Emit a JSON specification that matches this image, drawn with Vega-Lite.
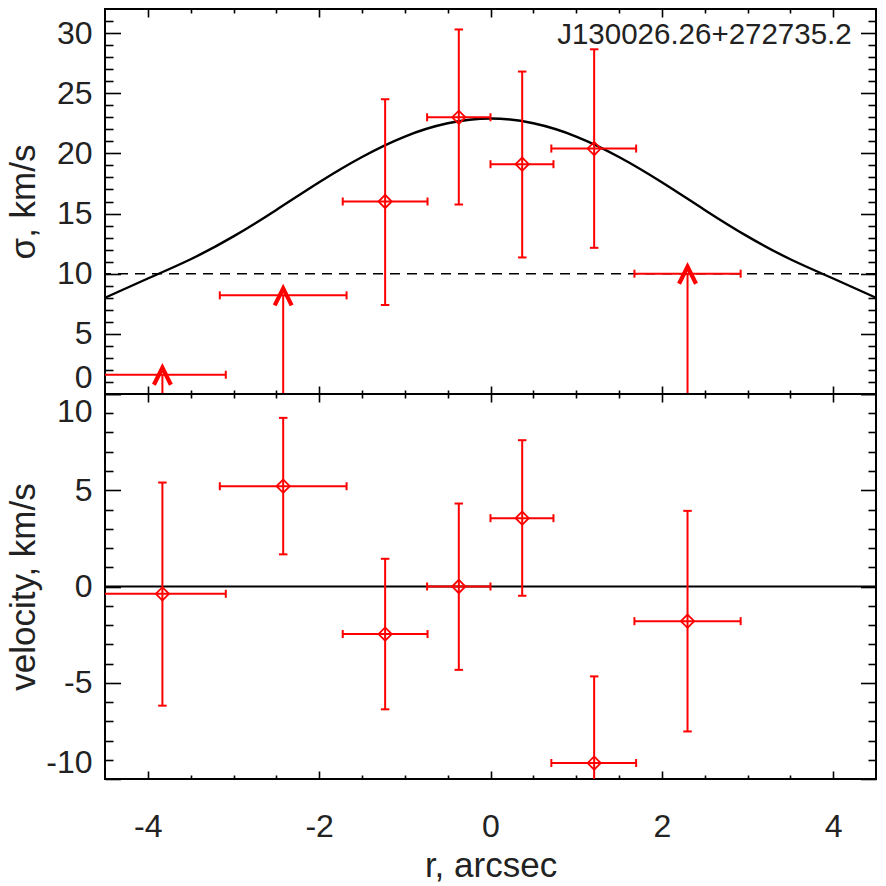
{
  "$schema": "https://vega.github.io/schema/vega-lite/v6.json",
  "padding": {"left": 5, "top": 7, "right": 5, "bottom": 2},
  "background": "white",
  "spacing": 0,
  "bounds": "flush",
  "config": {
    "font": "Liberation Sans",
    "view": {"stroke": "black", "strokeWidth": 2},
    "axis": {
      "domain": false,
      "grid": false,
      "tickColor": "black",
      "tickWidth": 1.6,
      "labelFont": "Liberation Sans",
      "labelFontSize": 32,
      "labelColor": "#222222",
      "labelExpr": "replace(datum.label, '\u2212', '-')",
      "titleFont": "Liberation Sans",
      "titleFontSize": 35,
      "titleFontWeight": "normal",
      "titleColor": "#222222"
    }
  },
  "datasets": {
    "profile": [
      {"r": -4.5, "sigma": 8.0}, {"r": -4.0, "sigma": 9.6}, {"r": -3.5, "sigma": 11.2},
      {"r": -3.0, "sigma": 13.1}, {"r": -2.5, "sigma": 15.3}, {"r": -2.0, "sigma": 17.6},
      {"r": -1.5, "sigma": 19.7}, {"r": -1.0, "sigma": 21.4}, {"r": -0.5, "sigma": 22.5},
      {"r": 0.0, "sigma": 22.9}, {"r": 0.5, "sigma": 22.5}, {"r": 1.0, "sigma": 21.4},
      {"r": 1.5, "sigma": 19.7}, {"r": 2.0, "sigma": 17.6}, {"r": 2.5, "sigma": 15.3},
      {"r": 3.0, "sigma": 13.1}, {"r": 3.5, "sigma": 11.2}, {"r": 4.0, "sigma": 9.6},
      {"r": 4.5, "sigma": 8.0}
    ],
    "sigma": [
      {"r": -3.83, "r_lo": -4.57, "r_hi": -3.09, "s": 1.6, "s_floor": 0, "kind": "limit"},
      {"r": -2.42, "r_lo": -3.16, "r_hi": -1.68, "s": 8.2, "s_floor": 0, "kind": "limit"},
      {"r": -1.23, "r_lo": -1.725, "r_hi": -0.735, "s": 16.0, "s_lo": 7.4, "s_hi": 24.5, "kind": "measured"},
      {"r": -0.37, "r_lo": -0.74, "r_hi": 0.0, "s": 23.0, "s_lo": 15.75, "s_hi": 30.3, "kind": "measured"},
      {"r": 0.37, "r_lo": 0.0, "r_hi": 0.735, "s": 19.1, "s_lo": 11.35, "s_hi": 26.8, "kind": "measured"},
      {"r": 1.21, "r_lo": 0.71, "r_hi": 1.7, "s": 20.4, "s_lo": 12.15, "s_hi": 28.65, "kind": "measured"},
      {"r": 2.3, "r_lo": 1.68, "r_hi": 2.92, "s": 10.0, "s_floor": 0, "kind": "limit"}
    ],
    "velocity": [
      {"r": -3.83, "r_lo": -4.57, "r_hi": -3.09, "v": -0.38, "v_lo": -6.19, "v_hi": 5.4},
      {"r": -2.42, "r_lo": -3.16, "r_hi": -1.68, "v": 5.21, "v_lo": 1.67, "v_hi": 8.76},
      {"r": -1.23, "r_lo": -1.725, "r_hi": -0.735, "v": -2.47, "v_lo": -6.38, "v_hi": 1.44},
      {"r": -0.37, "r_lo": -0.74, "r_hi": 0.0, "v": 0.0, "v_lo": -4.33, "v_hi": 4.31},
      {"r": 0.37, "r_lo": 0.0, "r_hi": 0.735, "v": 3.55, "v_lo": -0.48, "v_hi": 7.6},
      {"r": 1.21, "r_lo": 0.71, "r_hi": 1.7, "v": -9.17, "v_lo": -13.7, "v_hi": -4.67},
      {"r": 2.3, "r_lo": 1.68, "r_hi": 2.92, "v": -1.8, "v_lo": -7.53, "v_hi": 3.93}
    ],
    "one": [{"label": "J130026.26+272735.2", "r": 4.216, "s": 29.8, "threshold": 10, "zero": 0}]
  },
  "vconcat": [
    {
      "width": 771,
      "height": 385,
      "resolve": {"axis": {"x": "independent", "y": "independent"}},
      "layer": [
        {
          "data": {"name": "profile"},
          "mark": {"type": "line", "color": "black", "strokeWidth": 2.4, "interpolate": "natural"},
          "encoding": {
            "x": {"field": "r", "type": "quantitative",
                  "scale": {"domain": [-4.5, 4.5], "nice": false, "zero": false},
                  "axis": {"orient": "bottom", "values": [-4, -2, 0, 2, 4], "tickSize": -8, "labels": false, "title": null}},
            "y": {"field": "sigma", "type": "quantitative",
                  "scale": {"domain": [0, 32], "nice": false, "zero": false},
                  "axis": {"orient": "left", "values": [0, 5, 10, 15, 20, 25, 30], "tickSize": -15.5, "labelPadding": 28.5,
                           "labelOffset": {"condition": {"test": "datum.value === 0", "value": -17}, "value": 0},
                           "title": "σ, km/s", "titleX": -70.5, "titleBaseline": "alphabetic"}}
          }
        },
        {
          "data": {"name": "one"},
          "mark": {"type": "rule", "color": "black", "strokeWidth": 1.5, "strokeDash": [10, 7]},
          "encoding": {
            "y": {"field": "threshold", "type": "quantitative",
                  "axis": {"orient": "left", "values": [1,2,3,4,6,7,8,9,11,12,13,14,16,17,18,19,21,22,23,24,26,27,28,29,31], "tickSize": -8, "labels": false, "title": null}}
          }
        },
        {
          "data": {"name": "sigma"},
          "mark": {"type": "rule", "color": "red", "strokeWidth": 2, "clip": true},
          "encoding": {
            "x": {"field": "r_lo", "type": "quantitative",
                  "axis": {"orient": "bottom", "values": [-3.5,-3,-2.5,-1.5,-1,-0.5,0.5,1,1.5,2.5,3,3.5], "tickSize": -4, "labels": false, "title": null}},
            "x2": {"field": "r_hi"},
            "y": {"field": "s", "type": "quantitative",
                  "axis": {"orient": "right", "values": [0, 5, 10, 15, 20, 25, 30], "tickSize": -15.5, "labels": false, "title": null}}
          }
        },
        {
          "data": {"name": "sigma"},
          "mark": {"type": "tick", "orient": "vertical", "color": "red", "size": 8, "thickness": 2, "opacity": 1, "clip": true},
          "encoding": {
            "x": {"field": "r_lo", "type": "quantitative",
                  "axis": {"orient": "top", "values": [-4, -2, 0, 2, 4], "tickSize": -8, "labels": false, "title": null}},
            "y": {"field": "s", "type": "quantitative",
                  "axis": {"orient": "right", "values": [1,2,3,4,6,7,8,9,11,12,13,14,16,17,18,19,21,22,23,24,26,27,28,29,31], "tickSize": -8, "labels": false, "title": null}}
          }
        },
        {
          "data": {"name": "sigma"},
          "mark": {"type": "tick", "orient": "vertical", "color": "red", "size": 8, "thickness": 2, "opacity": 1, "clip": true},
          "encoding": {
            "x": {"field": "r_hi", "type": "quantitative",
                  "axis": {"orient": "top", "values": [-3.5,-3,-2.5,-1.5,-1,-0.5,0.5,1,1.5,2.5,3,3.5], "tickSize": -4, "labels": false, "title": null}},
            "y": {"field": "s", "type": "quantitative", "axis": null}
          }
        },
        {
          "data": {"name": "sigma"},
          "transform": [{"filter": "datum.kind === 'measured'"}],
          "mark": {"type": "rule", "color": "red", "strokeWidth": 2, "clip": true},
          "encoding": {
            "x": {"field": "r", "type": "quantitative", "axis": null},
            "y": {"field": "s_lo", "type": "quantitative", "axis": null},
            "y2": {"field": "s_hi"}
          }
        },
        {
          "data": {"name": "sigma"},
          "transform": [{"filter": "datum.kind === 'measured'"}],
          "mark": {"type": "tick", "orient": "horizontal", "color": "red", "size": 8.5, "thickness": 2, "opacity": 1, "clip": true},
          "encoding": {
            "x": {"field": "r", "type": "quantitative", "axis": null},
            "y": {"field": "s_lo", "type": "quantitative", "axis": null}
          }
        },
        {
          "data": {"name": "sigma"},
          "transform": [{"filter": "datum.kind === 'measured'"}],
          "mark": {"type": "tick", "orient": "horizontal", "color": "red", "size": 8.5, "thickness": 2, "opacity": 1, "clip": true},
          "encoding": {
            "x": {"field": "r", "type": "quantitative", "axis": null},
            "y": {"field": "s_hi", "type": "quantitative", "axis": null}
          }
        },
        {
          "data": {"name": "sigma"},
          "transform": [{"filter": "datum.kind === 'measured'"}],
          "mark": {"type": "point", "shape": "diamond", "size": 175, "filled": false, "stroke": "red", "strokeWidth": 1.8, "opacity": 1},
          "encoding": {
            "x": {"field": "r", "type": "quantitative", "axis": null},
            "y": {"field": "s", "type": "quantitative", "axis": null}
          }
        },
        {
          "data": {"name": "sigma"},
          "transform": [{"filter": "datum.kind === 'limit'"}],
          "mark": {"type": "rule", "color": "red", "strokeWidth": 2},
          "encoding": {
            "x": {"field": "r", "type": "quantitative", "axis": null},
            "y": {"field": "s_floor", "type": "quantitative", "axis": null},
            "y2": {"field": "s"}
          }
        },
        {
          "data": {"name": "sigma"},
          "transform": [{"filter": "datum.kind === 'limit'"}],
          "mark": {"type": "point", "shape": "M-1,1L0,-1L1,1", "size": 289, "filled": false, "stroke": "red", "strokeWidth": 4.2, "strokeJoin": "miter", "opacity": 1, "yOffset": 1.5},
          "encoding": {
            "x": {"field": "r", "type": "quantitative", "axis": null},
            "y": {"field": "s", "type": "quantitative", "axis": null}
          }
        },
        {
          "data": {"name": "one"},
          "mark": {"type": "text", "align": "right", "baseline": "middle", "fontSize": 29.5, "color": "#222222", "font": "Liberation Sans"},
          "encoding": {
            "text": {"field": "label", "type": "nominal"},
            "x": {"field": "r", "type": "quantitative", "axis": null},
            "y": {"field": "s", "type": "quantitative", "axis": null}
          }
        }
      ]
    },
    {
      "width": 771,
      "height": 385,
      "resolve": {"axis": {"x": "independent", "y": "independent"}},
      "layer": [
        {
          "data": {"name": "one"},
          "mark": {"type": "rule", "color": "black", "strokeWidth": 2},
          "encoding": {
            "y": {"field": "zero", "type": "quantitative",
                  "scale": {"domain": [-10, 10], "nice": false, "zero": false},
                  "axis": {"orient": "left", "values": [-10, -5, 0, 5, 10], "tickSize": -15.5, "labelPadding": 28.5,
                           "labelOffset": {"condition": {"test": "datum.value === 10", "value": 17}, "value": 0},
                           "labelBaseline": {"condition": {"test": "datum.value === -10", "value": "bottom"}, "value": "middle"},
                           "title": "velocity, km/s", "titleX": -70.5, "titleBaseline": "alphabetic"}}
          }
        },
        {
          "data": {"name": "velocity"},
          "mark": {"type": "rule", "color": "red", "strokeWidth": 2, "clip": true},
          "encoding": {
            "x": {"field": "r_lo", "type": "quantitative",
                  "scale": {"domain": [-4.5, 4.5], "nice": false, "zero": false},
                  "axis": {"orient": "bottom", "values": [-4, -2, 0, 2, 4], "tickSize": -8, "labelPadding": 40,
                           "title": "r, arcsec", "titleY": 97.5, "titleBaseline": "alphabetic"}},
            "x2": {"field": "r_hi"},
            "y": {"field": "v", "type": "quantitative",
                  "axis": {"orient": "right", "values": [-10, -5, 0, 5, 10], "tickSize": -15.5, "labels": false, "title": null}}
          }
        },
        {
          "data": {"name": "velocity"},
          "mark": {"type": "tick", "orient": "vertical", "color": "red", "size": 8, "thickness": 2, "opacity": 1, "clip": true},
          "encoding": {
            "x": {"field": "r_lo", "type": "quantitative",
                  "axis": {"orient": "bottom", "values": [-3.5,-3,-2.5,-1.5,-1,-0.5,0.5,1,1.5,2.5,3,3.5], "tickSize": -4, "labels": false, "title": null}},
            "y": {"field": "v", "type": "quantitative",
                  "axis": {"orient": "left", "values": [-9,-8,-7,-6,-4,-3,-2,-1,1,2,3,4,6,7,8,9], "tickSize": -8, "labels": false, "title": null}}
          }
        },
        {
          "data": {"name": "velocity"},
          "mark": {"type": "tick", "orient": "vertical", "color": "red", "size": 8, "thickness": 2, "opacity": 1, "clip": true},
          "encoding": {
            "x": {"field": "r_hi", "type": "quantitative",
                  "axis": {"orient": "top", "values": [-4, -2, 0, 2, 4], "tickSize": -8, "labels": false, "title": null}},
            "y": {"field": "v", "type": "quantitative",
                  "axis": {"orient": "right", "values": [-9,-8,-7,-6,-4,-3,-2,-1,1,2,3,4,6,7,8,9], "tickSize": -8, "labels": false, "title": null}}
          }
        },
        {
          "data": {"name": "velocity"},
          "mark": {"type": "rule", "color": "red", "strokeWidth": 2, "clip": true},
          "encoding": {
            "x": {"field": "r", "type": "quantitative",
                  "axis": {"orient": "top", "values": [-3.5,-3,-2.5,-1.5,-1,-0.5,0.5,1,1.5,2.5,3,3.5], "tickSize": -4, "labels": false, "title": null}},
            "y": {"field": "v_lo", "type": "quantitative", "axis": null},
            "y2": {"field": "v_hi"}
          }
        },
        {
          "data": {"name": "velocity"},
          "mark": {"type": "tick", "orient": "horizontal", "color": "red", "size": 8.5, "thickness": 2, "opacity": 1, "clip": true},
          "encoding": {
            "x": {"field": "r", "type": "quantitative", "axis": null},
            "y": {"field": "v_lo", "type": "quantitative", "axis": null}
          }
        },
        {
          "data": {"name": "velocity"},
          "mark": {"type": "tick", "orient": "horizontal", "color": "red", "size": 8.5, "thickness": 2, "opacity": 1, "clip": true},
          "encoding": {
            "x": {"field": "r", "type": "quantitative", "axis": null},
            "y": {"field": "v_hi", "type": "quantitative", "axis": null}
          }
        },
        {
          "data": {"name": "velocity"},
          "mark": {"type": "point", "shape": "diamond", "size": 175, "filled": false, "stroke": "red", "strokeWidth": 1.8, "opacity": 1},
          "encoding": {
            "x": {"field": "r", "type": "quantitative", "axis": null},
            "y": {"field": "v", "type": "quantitative", "axis": null}
          }
        }
      ]
    }
  ]
}
